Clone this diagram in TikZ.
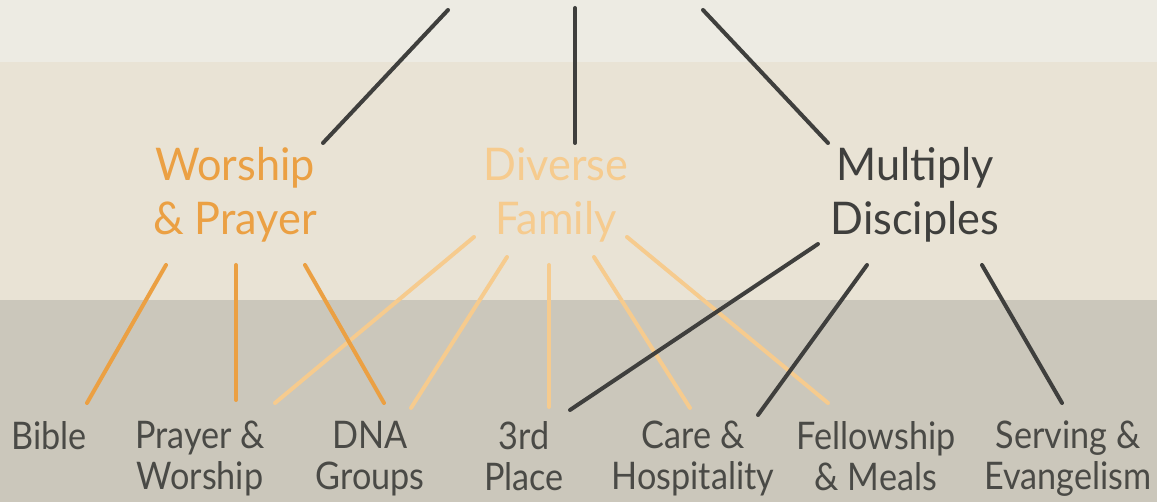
\documentclass[tikz,border=0pt]{standalone}
\usepackage{fontspec}
\setmainfont{Lato}[FakeStretch=0.9]
\newfontfamily\pillarfont{Lato}[FakeStretch=0.96]
\usepackage{xcolor}
\usepackage{tikz}
\usetikzlibrary{positioning,calc}
\definecolor{bandtop}{HTML}{EDEBE3}
\definecolor{bandmid}{HTML}{E9E3D5}
\definecolor{bandlow}{HTML}{CBC7BB}
\definecolor{ink}{HTML}{3F3F3D}
\definecolor{inksoft}{HTML}{4A4A46}
\definecolor{worshipcol}{HTML}{EBA043}
\definecolor{familycol}{HTML}{F6CB8E}
\tikzset{
    pillar/.style = {align = center, inner sep = 0pt, font = \pillarfont\fontsize{45}{54}\selectfont},
    practice/.style = {align = center, inner sep = 0pt, anchor = north, text = inksoft, font = \fontsize{38}{41}\selectfont},
    darkline/.style = {draw = ink, line width = 4pt, line cap = round},
    worshipline/.style = {draw = worshipcol, line width = 4pt, line cap = round},
    familyline/.style = {draw = familycol, line width = 4pt, line cap = round}
}

\begin{document}
\begin{tikzpicture}[x = 1pt, y = -1pt]
    % Bands
    \fill[bandtop] (0,0) rectangle (1157,62);
    \fill[bandmid] (0,62) rectangle (1157,300);
    \fill[bandlow] (0,300) rectangle (1157,502);
    \useasboundingbox (0,0) rectangle (1157,502);
    % Pillars
    \coordinate (t1) at (448,10);
    \coordinate (t2) at (575,8);
    \coordinate (t3) at (703,10);
    \node[pillar, text = worshipcol] (wp) at (235,195) {Worship\\\& Prayer};
    \node[pillar, text = familycol] (df) at (556,195) {Diverse\\Family};
    \node[pillar, text = ink] (md) at (915,195) {Multiply\\Disciples};
    % Practices
    \node[practice] (bible) at (49,421) {Bible};
    \node[practice] (pw) at (200,421) {Prayer \&\\Worship};
    \node[practice] (dna) at (370,421) {DNA\\Groups};
    \node[practice] (third) at (524,421) {3rd\\Place};
    \node[practice] (care) at (693,421) {Care \&\\Hospitality};
    \node[practice] (fellow) at (876,421) {Fellowship\\\& Meals};
    \node[practice] (serve) at (1068,421) {Serving \&\\Evangelism};
    % Top connectors
    \draw[darkline] (t1) -- ([xshift = 88, yshift = 52]wp.center);
    \draw[darkline] (t2) -- ([xshift = 19, yshift = 52]df.center);
    \draw[darkline] (t3) -- ([xshift = -87, yshift = 52]md.center);
    % Diverse Family
    \draw[familyline] ([xshift = -82, yshift = -42]df.center) -- ([xshift = 75, yshift = 18]pw.north);
    \draw[familyline] ([xshift = -49, yshift = -62]df.center) -- ([xshift = 41, yshift = 13]dna.north);
    \draw[familyline] ([xshift = -7, yshift = -70]df.center) -- ([xshift = 25, yshift = 14]third.north);
    \draw[familyline] ([xshift = 38, yshift = -62]df.center) -- ([xshift = -3, yshift = 13]care.north);
    \draw[familyline] ([xshift = 71, yshift = -42]df.center) -- ([xshift = -48, yshift = 18]fellow.north);
    % Worship & Prayer
    \draw[worshipline] ([xshift = -69, yshift = -70]wp.center) -- ([xshift = 38, yshift = 18]bible.north);
    \draw[worshipline] ([xshift = 1, yshift = -70]wp.center) -- ([xshift = 36, yshift = 21]pw.north);
    \draw[worshipline] ([xshift = 70, yshift = -70]wp.center) -- ([xshift = 14, yshift = 18]dna.north);
    % Multiply Disciples
    \draw[darkline] ([xshift = -97, yshift = -49]md.center) -- ([xshift = 46, yshift = 11]third.north);
    \draw[darkline] ([xshift = -48, yshift = -70]md.center) -- ([xshift = 65, yshift = 6]care.north);
    \draw[darkline] ([xshift = 67, yshift = -70]md.center) -- ([xshift = -6, yshift = 18]serve.north);
\end{tikzpicture}
\end{document}
